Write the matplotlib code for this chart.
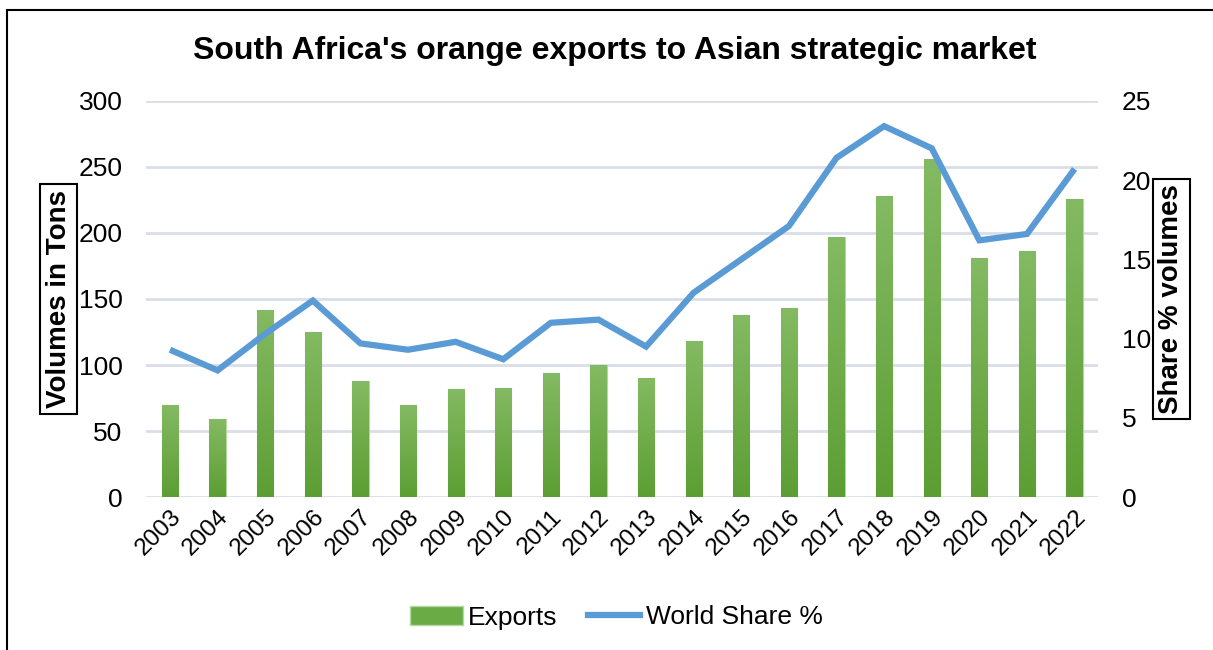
import matplotlib.pyplot as plt
import numpy as np
from matplotlib.colors import LinearSegmentedColormap
from matplotlib.lines import Line2D
from matplotlib.patches import Patch, Rectangle

plt.rcParams['font.family'] = ['Liberation Sans', 'DejaVu Sans']

years = [str(y) for y in range(2003, 2023)]
exports = [70, 59, 142, 125, 88, 70, 82, 83, 94, 100, 90, 118, 138, 143,
           197, 228, 256, 181, 186, 226]
world_share = [9.3, 8.0, 10.3, 12.4, 9.7, 9.3, 9.8, 8.7, 11.0, 11.2, 9.5,
               12.9, 15.0, 17.1, 21.4, 23.4, 22.0, 16.2, 16.6, 20.7]

green_top = '#84ba63'
green_bot = '#5c9e33'
blue = '#5b9bd5'
grid_col = '#d9dee8'

fig = plt.figure(figsize=(12.13, 6.5), dpi=100)
ax = fig.add_axes([0.1205, 0.235, 0.785, 0.61])
ax2 = ax.twinx()

x = np.arange(len(years))
bars = ax.bar(x, exports, width=0.34, color=green_bot, edgecolor='#b5d89e',
              linewidth=0.8, zorder=2)

# vertical gradient inside each bar
cmap = LinearSegmentedColormap.from_list('g', [green_bot, green_top])
grad = np.linspace(0, 1, 256).reshape(-1, 1)
for b in bars:
    x0, w, h = b.get_x(), b.get_width(), b.get_height()
    im = ax.imshow(grad, cmap=cmap, origin='lower', aspect='auto',
                   extent=[x0, x0 + w, 0, h], zorder=2.1)
    im.set_clip_path(b)

ax.set_xlim(-0.5, len(years) - 0.5)
ax.set_ylim(0, 300)
ax.set_yticks(range(0, 301, 50))
ax.set_xticks(x)
ax.set_xticklabels(years, rotation=45, ha='right', rotation_mode='anchor')
ax.grid(axis='y', color=grid_col, linewidth=2)
ax.set_axisbelow(True)
for s in ax.spines.values():
    s.set_visible(False)
ax.tick_params(length=0, labelsize=19, pad=17)
ax.tick_params(axis='x', pad=6, labelsize=17.5)

ax2.plot(x, world_share, color=blue, linewidth=4.5, solid_joinstyle='miter',
         solid_capstyle='butt', zorder=3)
ax2.set_ylim(0, 25)
ax2.set_yticks(range(0, 26, 5))
for s in ax2.spines.values():
    s.set_visible(False)
ax2.tick_params(length=0, labelsize=19, pad=17)

ax.set_ylabel('Volumes in Tons', fontsize=20, fontweight='bold', labelpad=5,
              bbox=dict(facecolor='white', edgecolor='black', linewidth=1.5,
                        pad=4))
ax2.set_ylabel('Share % volumes', fontsize=20, fontweight='bold', labelpad=5,
               bbox=dict(facecolor='white', edgecolor='black', linewidth=1.5,
                         pad=4))

fig.text(0.507, 0.922, "South Africa's orange exports to Asian strategic market",
         ha='center', va='center', fontsize=23, fontweight='bold')

handles = [Patch(facecolor='#6aab45', edgecolor='#b5d89e'),
           Line2D([0], [0], color=blue, linewidth=4.5)]
fig.legend(handles, ['Exports', 'World Share %'], loc='center',
           bbox_to_anchor=(0.508, 0.05), ncol=2, frameon=False, fontsize=19,
           handlelength=2.0, columnspacing=1.15, handletextpad=0.2)

# outer frame
fig.patches.append(Rectangle((0.0058, -0.05), 1.2, 1.035, transform=fig.transFigure,
                             fill=False, edgecolor='black', linewidth=1.5))

fig.savefig('out.png', dpi=100)
